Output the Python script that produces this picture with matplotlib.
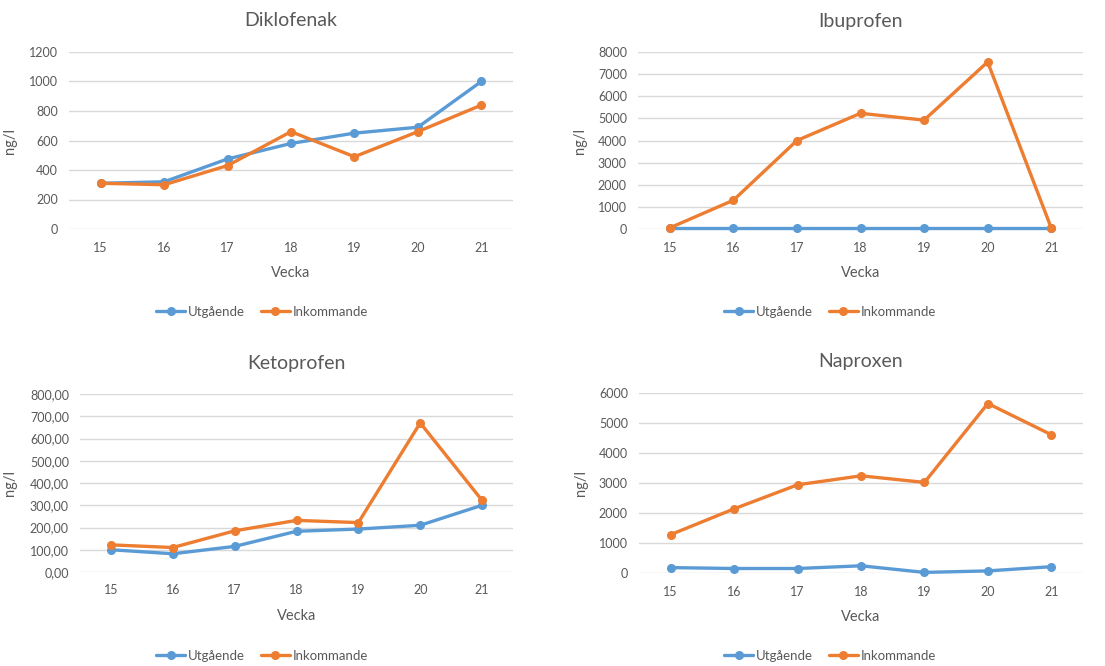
import matplotlib
matplotlib.use("Agg")
import matplotlib.pyplot as plt
from matplotlib.ticker import FuncFormatter, MultipleLocator

plt.rcParams["font.family"] = ["Lato", "DejaVu Sans"]

weeks = ["15", "16", "17", "18", "19", "20", "21"]

diklofenak_ut = [310, 320, 475, 580, 650, 690, 1000]
diklofenak_in = [310, 300, 430, 660, 490, 660, 840]

ibuprofen_ut = [30, 30, 30, 30, 30, 30, 30]
ibuprofen_in = [50, 1300, 4000, 5230, 4920, 7550, 50]

ketoprofen_ut = [100, 82, 115, 183, 193, 210, 300]
ketoprofen_in = [122, 110, 185, 232, 222, 670, 322]

naproxen_ut = [180, 150, 150, 240, 20, 70, 210]
naproxen_in = [1280, 2140, 2940, 3240, 3020, 5650, 4610]

BLUE = "#5B9BD5"
ORANGE = "#ED7D31"
TEXT = "#595959"
GRID = "#D9D9D9"
W, H = 1105, 666

fig = plt.figure(figsize=(W / 100, H / 100), dpi=100)


def make_panel(box, title, ut, inn, ymax, step, fmt, title_y, legend_xy, ylabel_x):
    x0, y0, x1, y1 = box
    ax = fig.add_axes([x0 / W, 1 - y1 / H, (x1 - x0) / W, (y1 - y0) / H])
    xs = range(len(weeks))
    ax.plot(xs, ut, color=BLUE, lw=2.4, marker="o", ms=5.5, label="Utgående",
            solid_capstyle="round", zorder=3)
    ax.plot(xs, inn, color=ORANGE, lw=2.4, marker="o", ms=5.5, label="Inkommande",
            solid_capstyle="round", zorder=3)
    ax.set_xlim(-0.5, len(weeks) - 0.5)
    ax.set_ylim(0, ymax)
    ax.set_xticks(list(xs))
    ax.set_xticklabels(weeks)
    ax.yaxis.set_major_locator(MultipleLocator(step))
    ax.yaxis.set_major_formatter(FuncFormatter(fmt))
    ax.grid(axis="y", color=GRID, lw=1)
    ax.set_axisbelow(True)
    for s in ax.spines.values():
        s.set_visible(False)
    ax.tick_params(length=0, colors=TEXT, labelsize=9)
    ax.tick_params(axis="x", pad=9)
    ax.tick_params(axis="y", pad=8)
    for ln in ax.lines:
        ln.set_clip_on(False)

    ph = y1 - y0
    pw = x1 - x0
    ax.set_xlabel("Vecka", color=TEXT, fontsize=10.5)
    ax.xaxis.set_label_coords(0.5, -(266 - 229) / ph)
    ax.set_ylabel("ng/l", color=TEXT, fontsize=10.5)
    ax.yaxis.set_label_coords((ylabel_x - x0) / pw, 0.5)

    fig.text((x0 + x1) / 2 / W, 1 - title_y / H, title, ha="center", va="center",
             color=TEXT, fontsize=14)
    ax.legend(loc="center", bbox_to_anchor=(legend_xy[0] / W, 1 - legend_xy[1] / H),
              bbox_transform=fig.transFigure, ncol=2, frameon=False, fontsize=9.5,
              handlelength=2.2, handletextpad=0.2, columnspacing=1.2,
              labelcolor=TEXT)
    return ax


def fmt_int(v, pos):
    return f"{int(round(v))}"


def fmt_dec(v, pos):
    return f"{v:.2f}".replace(".", ",")


make_panel((69, 52, 513, 229), "Diklofenak", diklofenak_ut, diklofenak_in,
           1200, 200, fmt_int, 21, (262, 312), 17)
make_panel((638, 52, 1083, 229), "Ibuprofen", ibuprofen_ut, ibuprofen_in,
           8000, 1000, fmt_int, 21, (830, 312), 587)
make_panel((80, 394, 513, 572), "Ketoprofen", ketoprofen_ut, ketoprofen_in,
           800, 100, fmt_dec, 363, (262, 656), 17)
make_panel((639, 393, 1083, 573), "Naproxen", naproxen_ut, naproxen_in,
           6000, 1000, fmt_int, 362, (830, 656), 588)

fig.savefig("out.png", dpi=100, facecolor="white")
